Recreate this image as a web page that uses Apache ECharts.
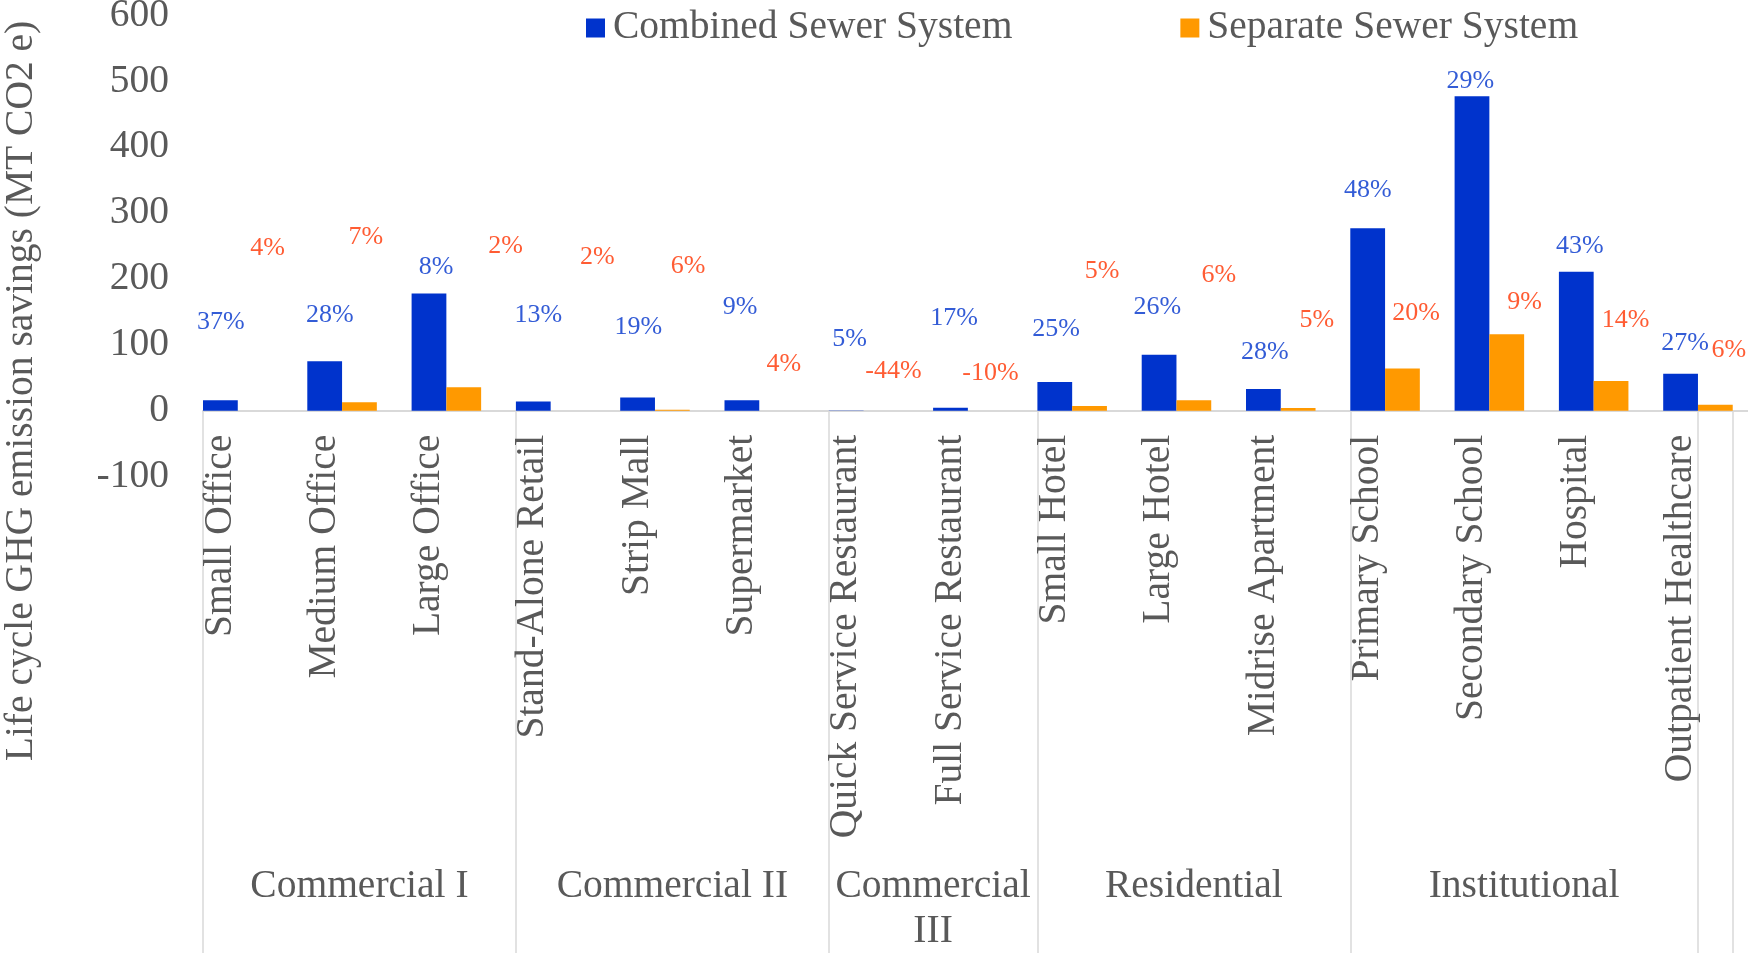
<!DOCTYPE html>
<html>
<head>
<meta charset="utf-8">
<script src="https://cdn.jsdelivr.net/npm/echarts@6/dist/echarts.min.js"></script>
<style>
html,body{margin:0;padding:0;background:#ffffff;}
#chart{width:1748px;height:953px;}
</style>
</head>
<body>
<div id="chart"></div>
<script>
// ---------- data ----------
const categories = ['Small Office','Medium Office','Large Office','Stand-Alone Retail','Strip Mall','Supermarket',
  'Quick Service Restaurant','Full Service Restaurant','Small Hotel','Large Hotel','Midrise Apartment',
  'Primary School','Secondary School','Hospital','Outpatient Healthcare'];
const groupNames = ['Commercial I','Commercial II','Commercial\nIII','Residential','Institutional'];
const seriesNames = ['Combined Sewer System','Separate Sewer System'];
const combined = [16, 75, 178, 14, 20, 16, 0.3, 4.5, 43.5, 85, 33, 277, 477, 211, 56];
const separate = [0, 13, 35.5, 0, 1.5, 0, 0, 0, 7, 16, 4, 64, 116, 45, 9];
const combinedPct = [37, 28, 8, 13, 19, 9, 5, 17, 25, 26, 28, 48, 29, 43, 27];
const separatePct = [4, 7, 2, 2, 6, 4, -44, -10, 5, 6, 5, 20, 9, 14, 6];
const yTickValues = [-100, 0, 100, 200, 300, 400, 500, 600];

// ---------- label placement (layout, in axis units) ----------
const combinedLabelY = [135, 145, 218, 145, 127, 157, 108, 140, 123, 157, 89, 334, 500, 250, 102];
const separateLabelY = [247, 263, 250, 233, 220, 70, 60, 57, 211, 206, 137, 148, 165, 137, 92];
const combinedLabelDx = [-0.33, -0.285, -0.265, -0.285, -0.325, -0.35, -0.30, -0.30, -0.32, -0.35, -0.32, -0.333, -0.35, -0.30, -0.29];
const separateLabelDx = [0.12, 0.06, 0.40, 0.28, 0.15, 0.07, 0.12, 0.05, 0.12, 0.24, 0.18, 0.13, 0.17, 0.14, 0.13];
const separators = [-0.5, 2.5, 5.5, 7.5, 10.5, 13.833, 14.167];

// ---------- styles ----------
const FONT = 'Liberation Serif';
const GRAY = '#595959';
const LINE = '#D9D9D9';
const BLUE = '#0033CC';
const ORANGE = '#FF9900';
const RED = '#FF3300';

const GRID_TOP = 15.3, GRID_H = 461.3;
const yMin = yTickValues[0], yMax = yTickValues[yTickValues.length - 1];
// shift the x axes from the grid bottom up to the zero line
const zeroOffset = -GRID_H * (0 - yMin) / (yMax - yMin);

const groupCenters = groupNames.map((g, i) => (separators[i] + separators[i + 1]) / 2);

const chart = echarts.init(document.getElementById('chart'), null, {renderer: 'canvas'});

const option = {
  animation: false,
  backgroundColor: '#ffffff',
  textStyle: {fontFamily: FONT},
  legend: {
    data: seriesNames,
    left: 581,
    top: 3,
    icon: 'rect',
    itemWidth: 19,
    itemHeight: 19,
    itemGap: 168,
    selectedMode: false,
    textStyle: {fontFamily: FONT, fontSize: 39.5, color: GRAY, lineHeight: 40, padding: [0, 0, 0, 3]}
  },
  grid: {
    left: 203,
    top: GRID_TOP,
    width: 1564.5,
    height: GRID_H,
    containLabel: false,
    outerBoundsMode: 'none'
  },
  xAxis: [
    {
      type: 'category',
      data: categories,
      position: 'bottom',
      offset: zeroOffset,
      axisLine: {show: true, onZero: false, lineStyle: {color: LINE, width: 2}},
      axisTick: {show: false},
      splitLine: {show: false},
      axisLabel: {
        interval: 0,
        rotate: 90,
        margin: 24,
        fontFamily: FONT,
        fontSize: 39.5,
        color: GRAY,
        lineHeight: 70,
        verticalAlign: 'bottom'
      }
    },
    {
      type: 'value',
      min: -0.5,
      max: 14.5,
      position: 'bottom',
      offset: zeroOffset,
      axisLine: {show: false, onZero: false},
      splitLine: {show: false},
      axisTick: {
        show: true,
        customValues: separators,
        length: 545,
        lineStyle: {color: LINE, width: 1.5}
      },
      axisLabel: {
        show: true,
        customValues: groupCenters,
        margin: 453,
        fontFamily: FONT,
        fontSize: 39.5,
        lineHeight: 45,
        color: GRAY,
        formatter: function (v) {
          let best = 0, d = 1e9;
          groupCenters.forEach((c, i) => { if (Math.abs(c - v) < d) { d = Math.abs(c - v); best = i; } });
          return groupNames[best];
        }
      }
    }
  ],
  yAxis: {
    type: 'value',
    min: yMin,
    max: yMax,
    interval: 100,
    axisLine: {show: false},
    axisTick: {show: false},
    splitLine: {show: false},
    axisLabel: {margin: 34, fontFamily: FONT, fontSize: 39.5, color: GRAY}
  },
  graphic: [
    {
      type: 'text',
      x: 22,
      y: 391,
      rotation: Math.PI / 2,
      silent: true,
      style: {
        text: 'Life cycle GHG emission savings (MT CO2 e)',
        font: '39.5px "Liberation Serif"',
        fill: GRAY,
        align: 'center',
        verticalAlign: 'middle'
      }
    }
  ],
  series: [
    {
      name: seriesNames[0],
      type: 'bar',
      xAxisIndex: 0,
      data: combined,
      barGap: '0%',
      barCategoryGap: '0%',
      itemStyle: {color: BLUE},
      silent: true
    },
    {
      name: seriesNames[1],
      type: 'bar',
      xAxisIndex: 0,
      data: separate,
      barGap: '0%',
      barCategoryGap: '0%',
      itemStyle: {color: ORANGE},
      silent: true
    },
    {
      name: 'spacer',
      type: 'bar',
      xAxisIndex: 0,
      data: categories.map(() => 0),
      barGap: '0%',
      barCategoryGap: '0%',
      itemStyle: {color: 'rgba(0,0,0,0)'},
      silent: true
    },
    {
      name: 'combinedPct',
      type: 'scatter',
      xAxisIndex: 1,
      symbolSize: 0.1,
      itemStyle: {color: 'rgba(0,0,0,0)'},
      silent: true,
      data: combinedPct.map((p, i) => [i + combinedLabelDx[i], combinedLabelY[i], p]),
      label: {
        show: true,
        position: 'inside',
        formatter: d => d.value[2] + '%',
        fontFamily: FONT,
        fontSize: 26,
        color: BLUE
      }
    },
    {
      name: 'separatePct',
      type: 'scatter',
      xAxisIndex: 1,
      symbolSize: 0.1,
      itemStyle: {color: 'rgba(0,0,0,0)'},
      silent: true,
      data: separatePct.map((p, i) => [i + separateLabelDx[i], separateLabelY[i], p]),
      label: {
        show: true,
        position: 'inside',
        formatter: d => d.value[2] + '%',
        fontFamily: FONT,
        fontSize: 26,
        color: RED
      }
    }
  ]
};

chart.setOption(option);
</script>
</body>
</html>
